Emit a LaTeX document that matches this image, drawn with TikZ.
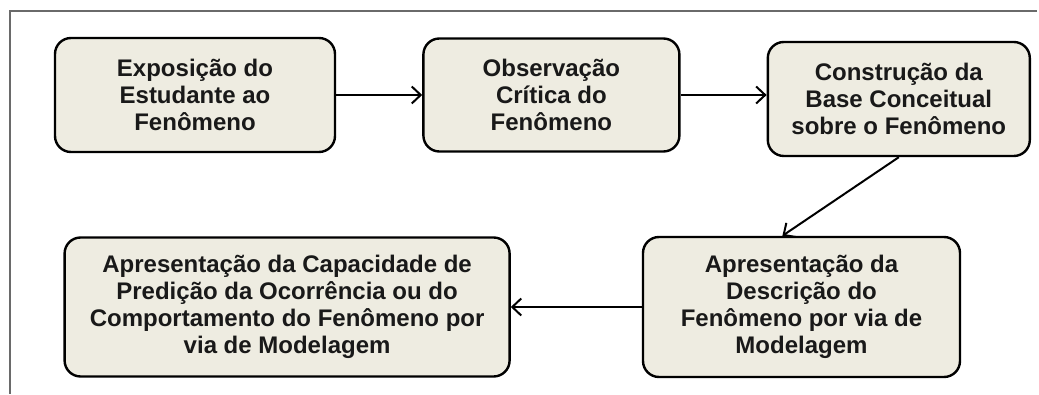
\documentclass[tikz,border=0pt]{standalone}
\usepackage{fontspec}
\setmainfont{Liberation Sans}
\usepackage{tikz}
\usetikzlibrary{positioning,arrows.meta}

\definecolor{caixa}{HTML}{EEECE1}
\definecolor{moldura}{HTML}{6A6A6A}

\begin{document}
\begin{tikzpicture}[x=1pt,y=1pt,
                    -{Straight Barb[length=9pt,width=17pt]},line width=2pt,
                    every text node part/.style={align=center}]
  \tikzstyle{etapa}=[draw=black,fill=caixa,line width=2.4pt,rounded corners=16pt,
                     inner sep=0pt,text=black!90,
                     font=\bfseries\fontsize{24}{27}\selectfont]

  \useasboundingbox (0,0) rectangle (1039,394);
  % moldura
  \draw[-,moldura] (1037,383) -- (10,383) -- (10,0);

  \node[etapa,minimum width=280pt,minimum height=114pt] (exposicao) at (195,299)
        {Exposição do\\Estudante ao\\Fenômeno};
  \node[etapa,minimum width=256pt,minimum height=113pt] (observacao) [right=86pt of exposicao]
        {Observação\\Crítica do\\Fenômeno};
  \node[etapa,minimum width=262pt,minimum height=114pt] (construcao) [right=86pt of observacao,yshift=-4pt]
        {Construção da\\Base Conceitual\\sobre o Fenômeno};
  \node[etapa,minimum width=317pt,minimum height=140pt] (descricao) at (801.5,87)
        {Apresentação da\\Descrição do\\Fenômeno por via de\\Modelagem};
  \node[etapa,minimum width=445pt,minimum height=139pt] (predicao) [left=131pt of descricao]
        {Apresentação da Capacidade de\\Predição da Ocorrência ou do\\Comportamento do Fenômeno por\\via de Modelagem};

  \path (exposicao.east) edge (observacao.west)
        (observacao.east) edge (observacao.east -| construcao.west)
        (construcao.south) edge (descricao.105)
        (descricao.west) edge (descricao.west -| predicao.east);
\end{tikzpicture}
\end{document}
